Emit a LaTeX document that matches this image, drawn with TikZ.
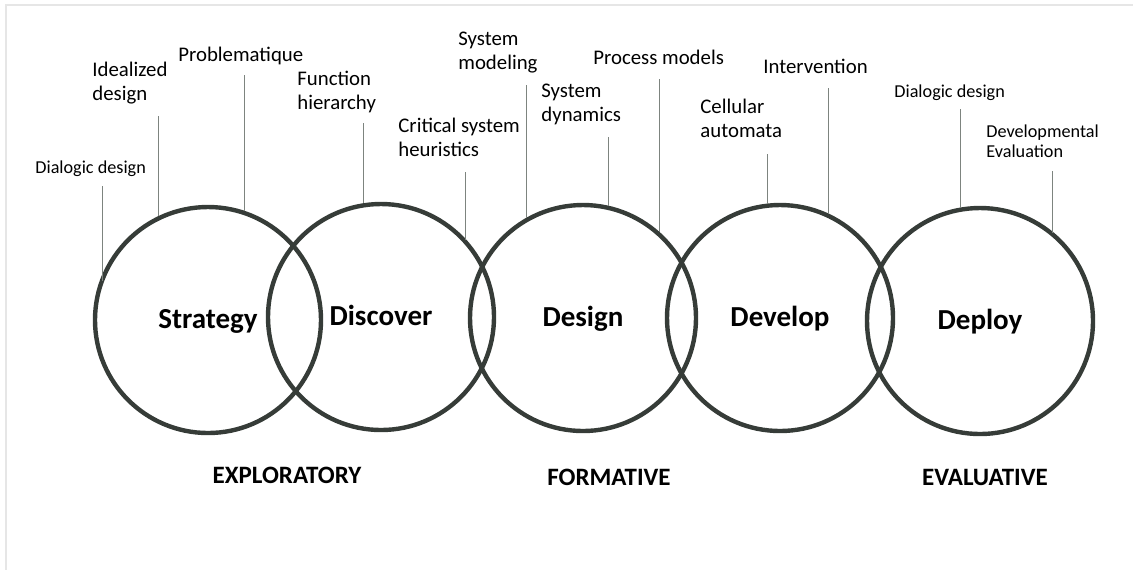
\documentclass[tikz,border=0pt]{standalone}
\usepackage{fontspec}
\setmainfont{Carlito}
\definecolor{ringgray}{HTML}{363C38}
\definecolor{leadgray}{HTML}{7D847F}
\definecolor{framegray}{HTML}{E6E6E6}

\begin{document}
\begin{tikzpicture}[x=0.5pt,y=-0.5pt,
		stage/.style={circle, draw=ringgray, line width=2.2pt, minimum size=113pt, inner sep=0pt, text height=12pt, text depth=4pt, font=\fontsize{14.5}{17}\selectfont\bfseries},
		method/.style={anchor=north west, inner sep=0pt, align=left, font=\fontsize{10.4}{11.8}\selectfont},
		smallmethod/.style={method, font=\fontsize{9.1}{10}\selectfont},
		phase/.style={anchor=base, font=\fontsize{12.5}{15}\selectfont\bfseries},
		leader/.style={draw=leadgray, line width=0.5pt}]
			\useasboundingbox (0,0) rectangle (1133,570);
			\draw[framegray, line width=0.6pt] (6,570) -- (6,5) -- (1133,5);
			% the five stages
			\foreach \name/\x/\y/\txt in {strategy/208/320/Strategy, discover/381/317/Discover, design/583/318/Design, develop/780/318/Develop, deploy/980/321/Deploy}
			\node[stage] (\name) at (\x,\y) {\txt};
			% methods above the stages
			\node[smallmethod] (dialogicL) at (35,160) {Dialogic design};
			\node[method] (idealized) at (92,62) {Idealized\\design};
			\node[method] (problematique) at (178,47) {Problematique};
			\node[method] (function) at (297,71) {Function\\hierarchy};
			\node[method] (critical) at (398,118) {Critical system\\heuristics};
			\node[method] (modeling) at (458,32) {System\\modeling};
			\node[method] (dynamics) at (541,84) {System\\dynamics};
			\node[method] (process) at (593,50) {Process models};
			\node[method] (cellular) at (700,99) {Cellular\\automata};
			\node[method] (intervention) at (763,59) {Intervention};
			\node[smallmethod] (dialogicR) at (894,84) {Dialogic design};
			\node[smallmethod] (developmental) at (986,124) {Developmental\\Evaluation};
			\foreach \lbl/\stg/\ang/\x/\y in {dialogicL/strategy/160/102/186, idealized/strategy/116/158/116, problematique/strategy/71/244/75, function/discover/99/363/123, critical/discover/42/465/172, modeling/design/120/526/85, dynamics/design/77/608/137, process/design/48/659/79, cellular/develop/97/767/154, intervention/develop/65/828/88, dialogicR/deploy/100/960/109, developmental/deploy/50/1052/171}
			{
				\coordinate (\lbl-tip) at (\x,\y);
				\draw[leader] (\lbl-tip) -- (\lbl-tip |- \stg.\ang);
			}
			% phases
			\node[phase] (exploratory) at (287,483) {EXPLORATORY};
			\node[phase] (formative) at (609,485) {FORMATIVE};
			\node[phase] (evaluative) at (985,485) {EVALUATIVE};
		\end{tikzpicture}
\end{document}
